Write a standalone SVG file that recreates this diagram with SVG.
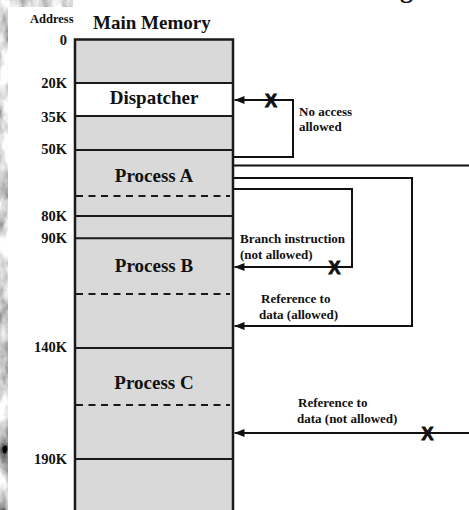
<svg xmlns="http://www.w3.org/2000/svg" width="469" height="510" viewBox="0 0 469 510">
  <defs>
    <!-- grey grainy backdrop visible along the top-left edges -->
    <filter id="grain" filterUnits="objectBoundingBox" x="0" y="0" width="1" height="1">
      <feTurbulence type="fractalNoise" baseFrequency="0.06 0.03" numOctaves="6" seed="7"/>
      <feColorMatrix type="matrix" values="1.9 0 0 0 -0.3  1.9 0 0 0 -0.3  1.9 0 0 0 -0.3  0 0 0 0 1"/>
    </filter>
    <marker id="arrow" viewBox="0 0 10 8" refX="10" refY="4" markerWidth="10" markerHeight="8" markerUnits="userSpaceOnUse" orient="auto">
      <path d="M0,0 L10,4 L0,8 z" fill="#111"/>
    </marker>
  </defs>
  <style>
    .serif { font-family: "Liberation Serif", "Times New Roman", serif; font-weight: bold; fill: #111; }
    .addr { font-size: 14.5px; text-anchor: end; }
    .title { font-size: 19px; }
    .seg { font-size: 19px; text-anchor: middle; }
    .note { font-size: 13px; }
    .cross { font-family: "Liberation Sans", Arial, sans-serif; font-weight: bold; font-size: 18px; text-anchor: middle; fill: #111; stroke: #111; stroke-width: 0.9; }
    .block { fill: #d9d9d9; }
    .divider { stroke: #1a1a1a; stroke-width: 2; fill: none; }
    .dash { stroke: #1a1a1a; stroke-width: 2; stroke-dasharray: 7 5.5; fill: none; }
    .wire { stroke: #111; stroke-width: 2; fill: none; }
  </style>

  <!-- backdrop -->
  <rect x="0" y="0" width="80" height="510" fill="#999" filter="url(#grain)"/>
  <rect x="8" y="7" width="461" height="503" fill="#fff"/>
  <rect x="73" y="0" width="396" height="8" fill="#fff"/>

  <!-- tail of heading glyph above the frame -->
  <text class="serif" x="400" y="-2.3" font-size="26">g</text>

  <!-- headings -->
  <text class="serif" x="30" y="23" font-size="12.5">Address</text>
  <text class="serif title" x="93" y="29">Main Memory</text>

  <!-- address labels -->
  <g id="addresses" class="serif addr">
    <text x="67" y="45">0</text>
    <text x="67" y="88">20K</text>
    <text x="67" y="122">35K</text>
    <text x="67" y="154">50K</text>
    <text x="67" y="221">80K</text>
    <text x="67" y="243">90K</text>
    <text x="67" y="352">140K</text>
    <text x="67" y="464">190K</text>
  </g>

  <!-- memory column -->
  <g id="main-memory">
    <rect class="block" x="75" y="39.5" width="158" height="475"/>
    <g id="dispatcher">
      <rect x="75" y="83" width="158" height="33" fill="#fff"/>
      <text class="serif seg" x="154" y="104">Dispatcher</text>
    </g>
    <g id="process-a">
      <text class="serif seg" x="154" y="182">Process A</text>
      <line class="dash" x1="76" y1="196" x2="230" y2="196"/>
    </g>
    <g id="process-b">
      <text class="serif seg" x="154" y="272">Process B</text>
      <line class="dash" x1="76" y1="294" x2="230" y2="294"/>
    </g>
    <g id="process-c">
      <text class="serif seg" x="154" y="389">Process C</text>
      <line class="dash" x1="76" y1="405" x2="230" y2="405"/>
    </g>
    <!-- region boundaries -->
    <path class="divider" d="M75,83H233M75,116H233M75,150H233M75,216H233M75,238.3H233M75,348H233M75,459H233"/>
    <path d="M75,514V39.5H233V514" fill="none" stroke="#1a1a1a" stroke-width="2.5"/>
  </g>

  <!-- accesses -->
  <g id="connectors">
    <path class="wire" d="M234,157H293V100H234.5" marker-end="url(#arrow)"/>
    <line class="wire" x1="234" y1="165.5" x2="469" y2="165.5"/>
    <path class="wire" d="M234,178H412V326H234.5" marker-end="url(#arrow)"/>
    <path class="wire" d="M234,189H352V267H234.5" marker-end="url(#arrow)"/>
    <path class="wire" d="M469,433H234.5" marker-end="url(#arrow)"/>

    <text class="cross" x="271" y="106.5">X</text>
    <text class="cross" x="334.5" y="274">X</text>
    <text class="cross" x="427.5" y="439.5">X</text>

    <text class="serif note" x="299" y="116">No access</text>
    <text class="serif note" x="299" y="131">allowed</text>
    <text class="serif note" x="240" y="243">Branch instruction</text>
    <text class="serif note" x="240" y="259">(not allowed)</text>
    <text class="serif note" x="261" y="303">Reference to</text>
    <text class="serif note" x="259" y="319">data (allowed)</text>
    <text class="serif note" x="298" y="407">Reference to</text>
    <text class="serif note" x="297" y="423">data (not allowed)</text>
  </g>
</svg>
